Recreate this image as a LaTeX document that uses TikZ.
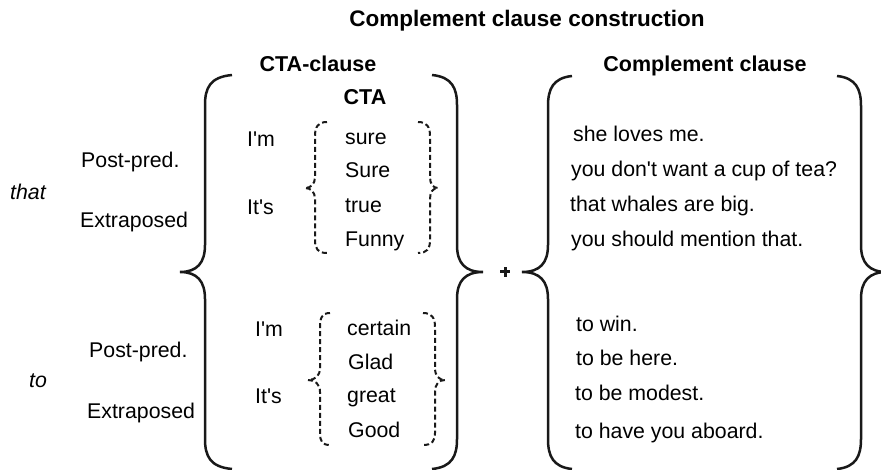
\documentclass[tikz,border=0pt]{standalone}
\usepackage{fontspec}
\setmainfont{Liberation Sans}[Ligatures=TeXReset]
\begin{document}
\begin{tikzpicture}[x=1pt,y=-1pt,
  txt/.style={inner sep=0pt,anchor=base west,font=\fontsize{21.3}{24}\selectfont},
  head/.style={inner sep=0pt,anchor=base,font=\fontsize{21.5}{25}\selectfont\bfseries},
  itxt/.style={txt,font=\fontsize{21.3}{24}\selectfont\itshape},
  bigbr/.style={draw=black!90,line width=2.5pt},
  dbr/.style={draw=black!90,line width=2pt,dash pattern=on 5pt off 3pt}]
\useasboundingbox (0,0) rectangle (881,470);
% title and headers
\node[head,font=\fontsize{22.5}{26}\selectfont\bfseries] (title) at (527,27) {Complement clause construction};
\node[head] (ctaclause) at (318,72) {CTA-clause};
\node[head] (compclause) at (705,72) {Complement clause};
\node[head] (cta) at (365,105) {CTA};
% left labels
\node[txt] (pp1) at (81,168) {Post-pred.};
\node[itxt] (that) at (10,200) {that};
\node[txt] (ex1) at (80,228) {Extraposed};
\node[txt] (pp2) at (89,358) {Post-pred.};
\node[itxt] (to) at (29,387) {to};
\node[txt] (ex2) at (87,418) {Extraposed};
% CTA subjects
\node[txt] (im1) at (247,147) {I'm};
\node[txt] (its1) at (247,215) {It's};
\node[txt] (im2) at (255,337) {I'm};
\node[txt] (its2) at (255,403) {It's};
% CTA words
\node[txt] (sure) at (345,145) {sure};
\node[txt] (Sure) at (345,178) {Sure};
\node[txt] (true) at (345,213) {true};
\node[txt] (funny) at (345,247) {Funny};
\node[txt] (certain) at (347,335) {certain};
\node[txt] (glad) at (348,370) {Glad};
\node[txt] (great) at (347,402) {great};
\node[txt] (good) at (348,437) {Good};
% complement clauses
\node[txt] (c1) at (573,142) {she loves me.};
\node[txt] (c2) at (571,177) {you don't want a cup of tea?};
\node[txt] (c3) at (570,212) {that whales are big.};
\node[txt] (c4) at (571,247) {you should mention that.};
\node[txt] (c5) at (576,332) {to win.};
\node[txt] (c6) at (576,365) {to be here.};
\node[txt] (c7) at (575,400) {to be modest.};
\node[txt] (c8) at (575,438) {to have you aboard.};
% plus
\coordinate (plus) at (505,272);
\draw[line width=3pt,black!90] ([xshift=-5pt]plus) -- ([xshift=5pt]plus);
\draw[line width=3pt,black!90] ([yshift=-5pt]plus) -- ([yshift=5pt]plus);
% big braces
\draw[bigbr] (232,75) .. controls (210,77) and (205,88) .. (205,105) -- (205,245)
  .. controls (205,263) and (197,272) .. (180,272) .. controls (197,272) and (205,281) .. (205,299)
  -- (205,439) .. controls (205,456) and (210,467) .. (232,469);
\draw[bigbr] (432,75) .. controls (452,77) and (457,88) .. (457,105) -- (457,245)
  .. controls (457,263) and (465,272) .. (483,272) .. controls (465,272) and (457,281) .. (457,299)
  -- (457,439) .. controls (457,456) and (452,467) .. (432,469);
\draw[bigbr] (572,76) .. controls (553,78) and (548,89) .. (548,106) -- (548,245)
  .. controls (548,263) and (540,272) .. (522,272) .. controls (540,272) and (548,281) .. (548,299)
  -- (548,439) .. controls (548,456) and (553,467) .. (572,469);
\draw[bigbr] (837,76) .. controls (856,78) and (861,89) .. (861,106) -- (861,245)
  .. controls (861,263) and (869,272) .. (887,272) .. controls (869,272) and (861,281) .. (861,299)
  -- (861,439) .. controls (861,456) and (856,467) .. (837,469);
% dashed braces
\draw[dbr] (327,122) .. controls (318,122) and (315,127) .. (315,136) -- (315,177)
  .. controls (315,184) and (311,188) .. (305,188) .. controls (311,188) and (315,192) .. (315,199)
  -- (315,240) .. controls (315,249) and (318,253) .. (327,253);
\draw[dbr] (418,122) .. controls (427,122) and (430,127) .. (430,136) -- (430,177)
  .. controls (430,184) and (433,188) .. (438,188) .. controls (433,188) and (430,192) .. (430,199)
  -- (430,240) .. controls (430,249) and (427,253) .. (418,253);
\draw[dbr] (330,313) .. controls (322,313) and (320,318) .. (320,327) -- (320,368)
  .. controls (320,376) and (315,380) .. (308,380) .. controls (315,380) and (320,384) .. (320,392)
  -- (320,433) .. controls (320,441) and (322,445) .. (330,445);
\draw[dbr] (423,313) .. controls (432,313) and (435,318) .. (435,327) -- (435,368)
  .. controls (435,376) and (439,380) .. (445,380) .. controls (439,380) and (435,384) .. (435,392)
  -- (435,433) .. controls (435,441) and (432,445) .. (423,445);
\end{tikzpicture}
\end{document}
